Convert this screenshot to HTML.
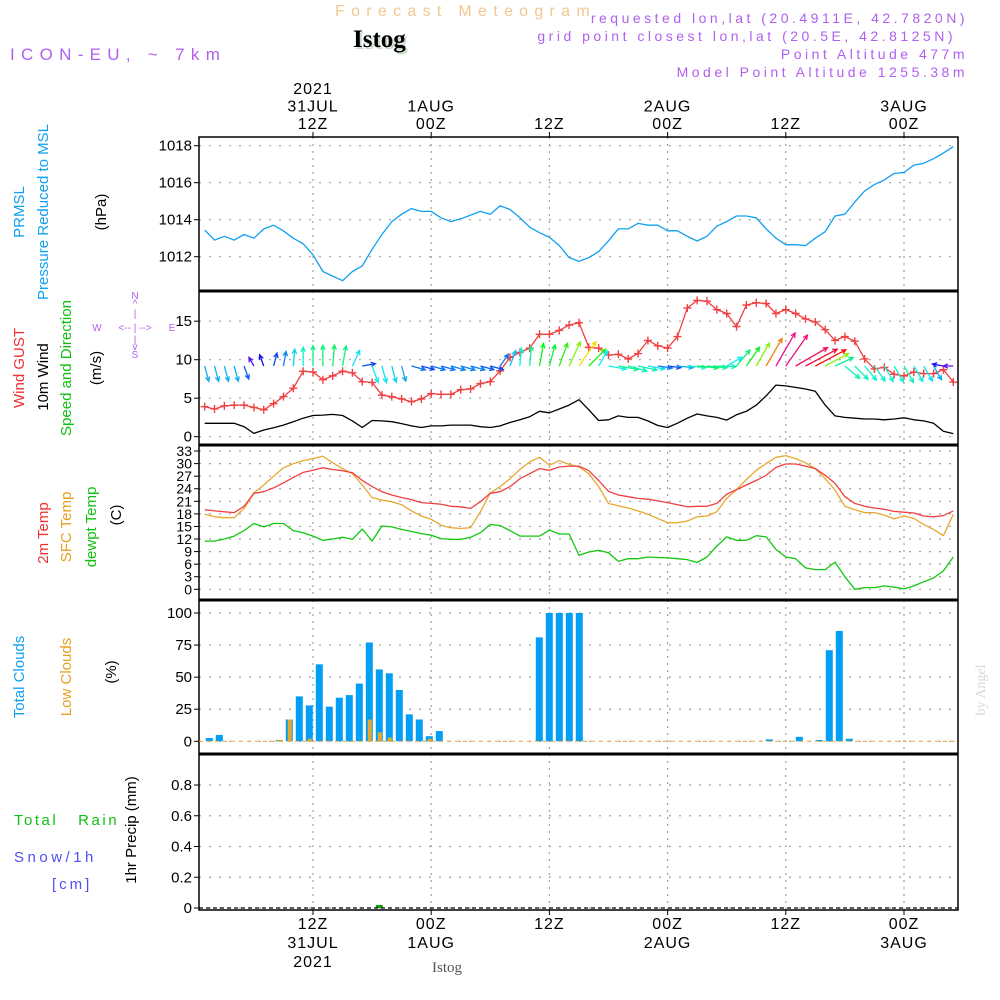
<!DOCTYPE html>
<html><head><meta charset="utf-8"><style>
html,body{margin:0;padding:0;background:#fff;width:1000px;height:1000px;overflow:hidden}
svg{display:block}
text{font-family:"Liberation Sans",sans-serif}
text.serif{font-family:"Liberation Serif",serif}
</style></head><body>
<svg id="chart" width="1000" height="1000" viewBox="0 0 1000 1000" xmlns="http://www.w3.org/2000/svg">
<text x="335" y="16" font-size="16" fill="#f0c890" letter-spacing="6.3">Forecast Meteogram</text>
<text class="serif" x="355" y="49" font-size="25" font-weight="bold" fill="#c8dcc8">Istog</text>
<text class="serif" x="353" y="47" font-size="25" font-weight="bold" fill="#000">Istog</text>
<text x="10" y="60" font-size="17" fill="#b060f0" letter-spacing="6.3">ICON-EU, ~ 7km</text>
<g fill="#b060f0" font-size="14" text-anchor="end" letter-spacing="3.5">
<text x="968" y="23">requested lon,lat (20.4911E, 42.7820N)</text>
<text x="956" y="41">grid point closest lon,lat (20.5E, 42.8125N)</text>
<text x="968" y="59">Point Altitude 477m</text>
<text x="968" y="77">Model Point Altitude 1255.38m</text>
</g>
<g id="left-labels" font-size="15">
<text transform="translate(24,212) rotate(-90)" text-anchor="middle" fill="#10a0f0">PRMSL</text>
<text transform="translate(48,212) rotate(-90)" text-anchor="middle" fill="#10a0f0">Pressure Reduced to MSL</text>
<text transform="translate(106,212) rotate(-90)" text-anchor="middle" fill="#000">(hPa)</text>
<text transform="translate(24,368) rotate(-90)" text-anchor="middle" fill="#f03030">Wind GUST</text>
<text transform="translate(48,377) rotate(-90)" text-anchor="middle" fill="#000">10m Wind</text>
<text transform="translate(71,368) rotate(-90)" text-anchor="middle" fill="#10c010">Speed and Direction</text>
<text transform="translate(101,368) rotate(-90)" text-anchor="middle" fill="#000">(m/s)</text>
<text transform="translate(48,533) rotate(-90)" text-anchor="middle" fill="#f03030">2m Temp</text>
<text transform="translate(71,527) rotate(-90)" text-anchor="middle" fill="#e8a020">SFC Temp</text>
<text transform="translate(96,527) rotate(-90)" text-anchor="middle" fill="#10c010">dewpt Temp</text>
<text transform="translate(121,515) rotate(-90)" text-anchor="middle" fill="#000">(C)</text>
<text transform="translate(24,677) rotate(-90)" text-anchor="middle" fill="#10a0f0">Total Clouds</text>
<text transform="translate(71,677) rotate(-90)" text-anchor="middle" fill="#e8a020">Low Clouds</text>
<text transform="translate(116,672) rotate(-90)" text-anchor="middle" fill="#000">(%)</text>
<text transform="translate(136,830) rotate(-90)" text-anchor="middle" fill="#000">1hr Precip (mm)</text>
<text x="14" y="825" fill="#10c010" letter-spacing="2.5" xml:space="preserve">Total   Rain</text>
<text x="14" y="862" fill="#5050f0" letter-spacing="3.5">Snow/1h</text>
<text x="52" y="889" fill="#5050f0" letter-spacing="3">[cm]</text>
</g>
<g fill="#b060f0" font-size="10" text-anchor="middle">
<text x="135" y="299">N</text><text x="135" y="307">^</text><text x="135" y="317">|</text>
<text x="97" y="331">W</text><text x="135" y="331" xml:space="preserve">&lt;-- | --&gt;</text><text x="172" y="331">E</text>
<text x="135" y="343">|</text><text x="135" y="350">v</text><text x="135" y="358">S</text>
</g>
<text class="serif" transform="translate(985,690) rotate(-90)" text-anchor="middle" font-size="14" fill="#d8d8d8">by Angel</text>
<text class="serif" x="447" y="972" text-anchor="middle" font-size="15" fill="#555">Istog</text>
<g id="plot"></g>
</svg>
<script>
const pressure=[1013.44,1012.9,1013.1,1012.9,1013.2,1013.0,1013.5,1013.7,1013.4,1013.0,1012.7,1012.1,1011.2,1010.95,1010.7,1011.2,1011.5,1012.4,1013.2,1013.9,1014.3,1014.6,1014.45,1014.45,1014.1,1013.9,1014.05,1014.25,1014.45,1014.3,1014.75,1014.55,1014.1,1013.6,1013.3,1013.05,1012.6,1011.95,1011.75,1011.95,1012.27,1012.86,1013.5,1013.5,1013.8,1013.7,1013.7,1013.4,1013.4,1013.1,1012.85,1013.1,1013.65,1013.9,1014.2,1014.2,1014.1,1013.5,1013.0,1012.65,1012.65,1012.6,1013.0,1013.35,1014.2,1014.3,1014.95,1015.55,1015.9,1016.15,1016.5,1016.55,1016.95,1017.05,1017.3,1017.6,1017.95];
const windSpeed=[1.74,1.74,1.74,1.74,1.3,0.43,0.87,1.17,1.5,1.95,2.4,2.75,2.8,2.9,2.75,2.05,1.2,2.1,2.05,1.95,1.7,1.4,1.2,1.4,1.4,1.5,1.5,1.5,1.3,1.2,1.4,1.85,2.2,2.6,3.3,3.1,3.6,4.1,4.8,3.5,2.1,2.2,2.7,2.5,2.5,2.05,1.45,1.2,1.75,2.4,2.95,2.7,2.5,2.15,2.85,3.3,4.1,5.3,6.7,6.6,6.4,6.2,5.9,4.1,2.7,2.5,2.4,2.3,2.3,2.2,2.3,2.45,2.2,2.05,1.75,0.7,0.4];
const windGust=[3.9,3.6,4.0,4.1,4.1,3.8,3.5,4.3,5.2,6.3,8.5,8.4,7.4,7.9,8.5,8.3,7.15,7.05,5.4,5.2,4.9,4.55,4.9,5.6,5.5,5.5,6.1,6.2,6.9,7.15,8.55,10.3,10.95,11.5,13.3,13.3,13.8,14.5,14.8,11.6,11.5,10.6,10.7,10.1,10.8,12.5,11.8,11.5,13.0,16.7,17.7,17.6,16.5,16.0,14.3,17.1,17.4,17.3,16.0,16.5,16.0,15.3,14.9,13.9,12.5,13.0,12.4,10.1,8.8,9.0,8.1,7.9,8.4,8.2,8.2,8.7,7.1];
const windDir=[165,165,165,165,160,330,340,15,10,5,0,0,0,5,10,25,80,160,165,165,165,105,105,105,105,105,105,105,105,105,35,20,5,5,10,15,20,25,35,45,30,100,100,105,102,100,98,97,96,95,95,95,92,60,40,35,30,30,30,35,60,62,62,62,65,130,135,140,145,150,150,150,150,150,150,280,270];
const temp2m=[19.0,18.7,18.5,18.3,19.8,22.9,23.3,24.2,25.4,26.7,27.9,28.4,29.0,28.6,28.3,27.8,26.0,24.5,23.3,22.5,21.9,21.4,20.7,20.5,20.3,19.8,19.7,19.3,20.9,22.9,23.3,24.5,26.4,27.6,28.8,28.4,29.2,29.4,29.4,28.3,26.0,23.4,22.5,22.1,21.7,21.5,21.1,20.7,20.2,19.7,19.8,19.8,20.5,22.7,23.8,24.9,26.0,27.2,29.1,29.9,29.9,29.4,28.8,27.2,25.3,22.1,20.5,19.8,19.4,19.1,18.6,18.4,18.2,17.5,17.3,17.6,18.7];
const tempSfc=[17.9,17.3,17.1,17.1,19.3,23.0,24.9,27.0,29.0,30.0,30.7,31.2,31.8,30.2,28.8,27.6,24.9,21.9,21.3,20.9,20.2,18.7,17.5,16.7,15.3,14.7,14.5,14.7,18.5,23.0,24.5,26.4,28.6,30.4,31.5,29.6,30.7,29.8,29.2,27.6,24.5,20.5,19.9,19.4,18.7,17.9,16.9,15.9,15.9,16.3,17.3,17.5,18.5,21.7,23.8,26.2,28.4,30.0,31.5,31.9,31.2,30.2,28.8,26.4,23.7,19.8,19.0,18.3,18.3,17.7,16.8,17.5,16.9,15.5,14.3,12.8,17.9];
const dewpoint=[11.5,11.5,12.0,12.7,14.0,15.7,14.9,15.7,15.7,14.0,13.5,12.7,11.7,12.0,12.4,11.9,14.4,11.5,15.1,14.9,14.3,13.8,13.3,12.9,12.1,11.9,11.9,12.4,13.5,15.5,15.2,14.0,12.7,12.7,12.7,14.1,13.2,13.2,8.1,8.9,9.3,8.7,6.7,7.3,7.3,7.7,7.6,7.5,7.3,7.1,6.4,7.7,10.3,12.5,11.7,11.7,12.8,12.5,9.5,7.7,7.3,5.1,4.7,4.7,6.5,3.0,0.0,0.4,0.4,0.8,0.5,0.1,0.8,1.8,2.7,4.4,7.7];
const totalClouds=[2.6,5,0,0,0,0,0,1,17,35,28,60,27,34,36,45,77,56,53,40,21,17,4,8,0,0,0,0,0,0,0,0,0,81,100,100,100,100,0,0,0,0,0,0,0,0,0,0,0,0,0,0,0,0,0,0,1.5,0,0,3.5,0,1,71,86,2,0,0,0,0,0,0,0,0,0,0,0,0];
const lowClouds=[0,0,0,0,0,0,0,1,17,0,2,0,0,0,0,0,17,7,3,0,0,0,2,0,0,0,0,0,0,0,0,0,0,0,0,0,0,0,0,0,0,0,0,0,0,0,0,0,0,0,0,0,0,0,0,0,0,0,0,0,0,0,0,0,0,0,0,0,0,0,0,0,0,0,0,0,0];
const precip=[0,0,0,0,0,0,0,0,0,0,0,0,0,0,0,0,0,0.02,0,0,0,0,0,0,0,0,0,0,0,0,0,0,0,0,0,0,0,0,0,0,0,0,0,0,0,0,0,0,0,0,0,0,0,0,0,0,0,0,0,0,0,0,0,0,0,0,0,0,0,0,0,0,0,0,0,0,0];
const pressureTicks=[1012,1014,1016,1018];
const windTicks=[0,5,10,15];
const tempTicks=[0,3,6,9,12,15,18,21,24,27,30,33];
const cloudTicks=[0,25,50,75,100];
const precipTicks=[0,0.2,0.4,0.6,0.8];
const timeHours=[12,24,36,48,60,72];
const topLabels=[["2021","31JUL","12Z"],["","1AUG","00Z"],["","","12Z"],["","2AUG","00Z"],["","","12Z"],["","3AUG","00Z"]];
const bottomLabels=[["12Z","31JUL","2021"],["00Z","1AUG",""],["12Z","",""],["00Z","2AUG",""],["12Z","",""],["00Z","3AUG",""]];

const NS="http://www.w3.org/2000/svg";
const plot=document.getElementById('plot');
function el(tag,attrs,parent){const e=document.createElementNS(NS,tag);for(const k in attrs)e.setAttribute(k,attrs[k]);(parent||plot).appendChild(e);return e;}
const L=199,R=958;
const xh=h=>313+(h-12)*9.85;
const xb=h=>209.3+(h-1)*10;
const yP=p=>256.7-(p-1012)*18.5;
const yW=v=>436.7-v*7.7;
const yT=t=>589.3-t*4.19;
const yC=c=>741.3-c*1.283;
const yR=r=>908-r*153.75;
const panels=[[137,291,pressureTicks,yP,v=>String(v)],[291,445,windTicks,yW,v=>String(v)],[445,600,tempTicks,yT,v=>String(v)],[600,754,cloudTicks,yC,v=>String(v)],[754,910,precipTicks,yR,v=>v===0?'0':v.toFixed(1)]];
const names=['pressure','wind','temp','cloud','precip'];
panels.forEach((p,pi)=>{
  const g=el('g',{});
  
  
  timeHours.forEach(h=>{const ln=el('line',{x1:xh(h),x2:xh(h),y1:p[0],y2:p[1],stroke:'#a0a0a0','stroke-dasharray':'2,5','stroke-width':1.2},g);
    });
  p[2].forEach(v=>{const y=p[3](v);
    const ln=el('line',{x1:L,x2:R,y1:y,y2:y,stroke:'#a0a0a0','stroke-dasharray':'2,8','stroke-width':1.2},g);
    
    el('line',{x1:L-5,x2:L,y1:y,y2:y,stroke:'#000'},g);
    const t=el('text',{x:L-7,y:y+5,'text-anchor':'end','font-size':pi===2?14:15,fill:'#000'},g);
    
    t.textContent=p[4](v);});
});
const fr=el('rect',{x:L,y:137,width:R-L,height:910-137,fill:'none',stroke:'#000','stroke-width':1.5});

[291,445,600,754].forEach(y=>{const d=el('line',{x1:L,x2:R,y1:y,y2:y,stroke:'#000','stroke-width':3});
  });
timeHours.forEach((h,i)=>{
  el('line',{x1:xh(h),x2:xh(h),y1:132,y2:137,stroke:'#000'});
  el('line',{x1:xh(h),x2:xh(h),y1:910,y2:915,stroke:'#000'});
  topLabels[i].forEach((s,j)=>{if(!s)return;const t=el('text',{x:xh(h),y:94+j*17.5,'text-anchor':'middle','font-size':16,fill:'#000','letter-spacing':1});
    t.textContent=s;});
  bottomLabels[i].forEach((s,j)=>{if(!s)return;const t=el('text',{x:xh(h),y:929+j*19,'text-anchor':'middle','font-size':16,fill:'#000','letter-spacing':1});
    t.textContent=s;});
});
function line(arr,yf,color,name,w){
  const d=arr.map((v,i)=>(i?'L':'M')+xh(i+1).toFixed(1)+','+yf(v).toFixed(1)).join(' ');
  const p=el('path',{d:d,fill:'none',stroke:color,'stroke-width':w||1.3,'stroke-linejoin':'round'});
  
}
line(pressure,yP,'#10a0f0','pressure-line');
line(windSpeed,yW,'#000','wind-speed-line');
line(windGust,yW,'#f04040','wind-gust-line');
windGust.forEach((v,i)=>{const x=xh(i+1),y=yW(v);
  const m=el('path',{d:`M${x-4},${y}H${x+4}M${x},${y-4}V${y+4}`,stroke:'#f04040','stroke-width':1.4});
  });
windSpeed.forEach((s,i)=>{
  const a=windDir[i]*Math.PI/180,len=4.5*s+8;
  const x0=xh(i+1),y0=366,x1=x0+Math.sin(a)*len,y1=y0-Math.cos(a)*len;
  let hue=(280-47*s)%360;if(hue<0)hue+=360;
  const c=`hsl(${hue},90%,50%)`;
  const hl=5,a1=a+Math.PI-0.45,a2=a+Math.PI+0.45;
  const d=`M${x0},${y0}L${x1},${y1}M${x1+Math.sin(a1)*hl},${y1-Math.cos(a1)*hl}L${x1},${y1}L${x1+Math.sin(a2)*hl},${y1-Math.cos(a2)*hl}`;
  const p=el('path',{d:d,stroke:c,fill:'none','stroke-width':1.3});
  
});
line(tempSfc,yT,'#e8a830','sfc-temp-line');
line(temp2m,yT,'#f04040','temp-2m-line');
line(dewpoint,yT,'#10c810','dewpoint-line');
totalClouds.forEach((v,i)=>{if(v<=0)return;const x=xb(i+1);
  const b=el('rect',{x:x-3.5,y:yC(v),width:7,height:yC(0)-yC(v),fill:'#009ff5'});
  });
lowClouds.forEach((v,i)=>{if(v<=0)return;const x=xb(i+1);
  const b=el('rect',{x:x-1.5,y:yC(v),width:4,height:yC(0)-yC(v),fill:'#e8a830'});
  });
const cb=el('line',{x1:L,x2:R,y1:yC(0),y2:yC(0),stroke:'#e8a830','stroke-dasharray':'4,4'});

precip.forEach((v,i)=>{if(v<=0)return;const x=xb(i+1);
  const b=el('rect',{x:x-3.5,y:yR(v),width:7,height:yR(0)-yR(v),fill:'#10a010'});
  });
const pb=el('line',{x1:L,x2:R,y1:yR(0),y2:yR(0),stroke:'#000','stroke-dasharray':'4,3','stroke-width':1.2});

</script>
</body></html>
